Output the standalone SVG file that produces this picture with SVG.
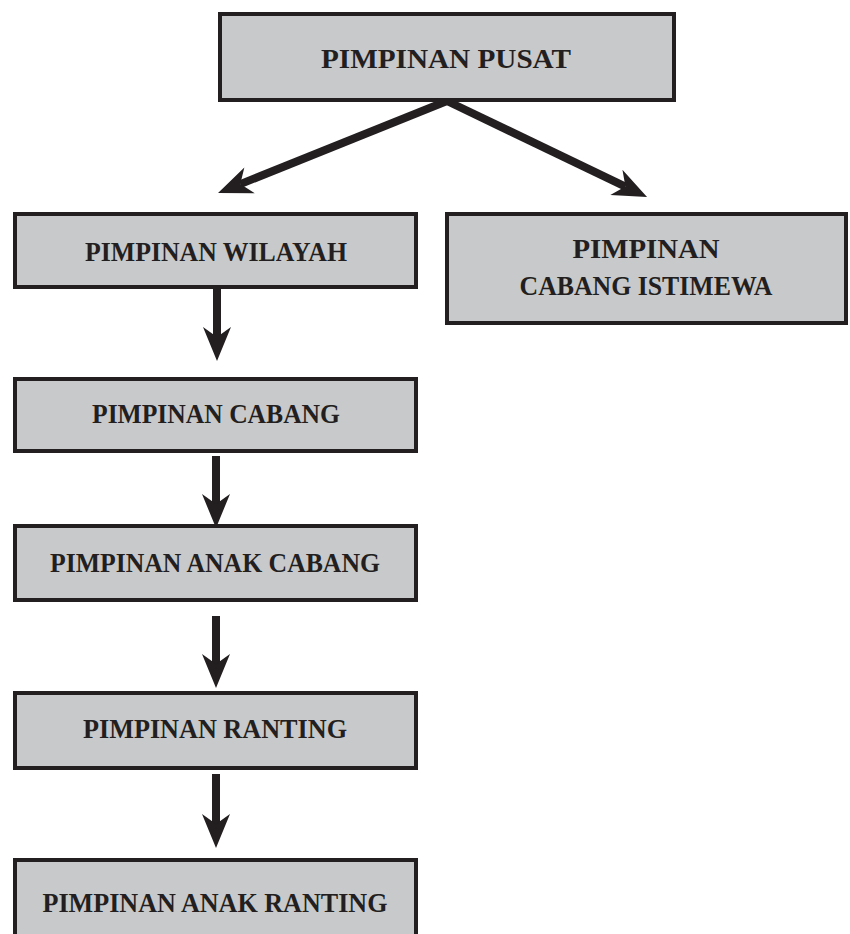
<svg xmlns="http://www.w3.org/2000/svg" width="850" height="934" viewBox="0 0 850 934">
<style>
.box{fill:#c8c9cb;stroke:#231f20;stroke-width:4}
.lbl{font-family:"Liberation Serif","Times New Roman",serif;font-weight:bold;font-size:28px;fill:#231f20;text-anchor:middle}
.con{stroke:#231f20;stroke-width:8;fill:none}
</style>
<defs>
<marker id="ah" markerUnits="userSpaceOnUse" viewBox="-36 -16 40 32" markerWidth="40" markerHeight="32" refX="-24" refY="0" orient="auto">
<path d="M0,0 L-34,-14 L-24,0 L-34,14 Z" fill="#231f20"/>
</marker>
</defs>
<rect width="850" height="934" fill="#fff"/>
<g id="connectors">
<line class="con" x1="447" y1="101" x2="240.3" y2="184.1" marker-end="url(#ah)"/>
<line class="con" x1="447" y1="101" x2="625.4" y2="186.6" marker-end="url(#ah)"/>
<line class="con" x1="217" y1="289" x2="217" y2="337" marker-end="url(#ah)"/>
<line class="con" x1="216" y1="456" x2="216" y2="504" marker-end="url(#ah)"/>
<line class="con" x1="216" y1="616" x2="216" y2="664" marker-end="url(#ah)"/>
<line class="con" x1="216" y1="774" x2="216" y2="824" marker-end="url(#ah)"/>
</g>
<g id="pusat">
<rect class="box" x="220" y="14" width="454" height="86"/>
<text class="lbl" x="446" y="68" textLength="250" lengthAdjust="spacingAndGlyphs">PIMPINAN PUSAT</text>
</g>
<g id="wilayah">
<rect class="box" x="15" y="214" width="401" height="73"/>
<text class="lbl" x="216" y="261" textLength="262" lengthAdjust="spacingAndGlyphs">PIMPINAN WILAYAH</text>
</g>
<g id="istimewa">
<rect class="box" x="447" y="214" width="399" height="109"/>
<text class="lbl" x="646" y="258" textLength="147" lengthAdjust="spacingAndGlyphs">PIMPINAN</text>
<text class="lbl" x="646" y="295" textLength="253" lengthAdjust="spacingAndGlyphs">CABANG ISTIMEWA</text>
</g>
<g id="cabang">
<rect class="box" x="15" y="379" width="401" height="72"/>
<text class="lbl" x="216" y="423" textLength="248" lengthAdjust="spacingAndGlyphs">PIMPINAN CABANG</text>
</g>
<g id="anak-cabang">
<rect class="box" x="15" y="526" width="401" height="74"/>
<text class="lbl" x="215" y="572" textLength="330" lengthAdjust="spacingAndGlyphs">PIMPINAN ANAK CABANG</text>
</g>
<g id="ranting">
<rect class="box" x="15" y="693" width="401" height="75"/>
<text class="lbl" x="215" y="738" textLength="264" lengthAdjust="spacingAndGlyphs">PIMPINAN RANTING</text>
</g>
<g id="anak-ranting">
<rect class="box" x="15" y="860" width="401" height="90"/>
<text class="lbl" x="215" y="912" textLength="345" lengthAdjust="spacingAndGlyphs">PIMPINAN ANAK RANTING</text>
</g>
</svg>
